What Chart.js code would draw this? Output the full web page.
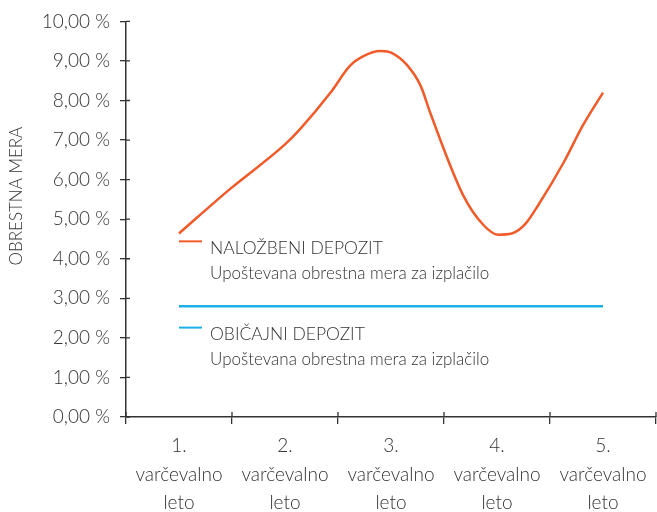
<!DOCTYPE html>
<html>
<head>
<meta charset="utf-8">
<script src="https://cdn.jsdelivr.net/npm/chart.js@4.4.1/dist/chart.umd.min.js"></script>
<style>
  html, body { margin: 0; padding: 0; background: #fff; }
  #wrap { width: 657px; height: 512px; }
</style>
</head>
<body>
<div id="wrap"><canvas id="obrestna-mera"></canvas></div>
<script>
// leta (kategorije)
var leta = [
  ['1.', 'varčevalno', 'leto'],
  ['2.', 'varčevalno', 'leto'],
  ['3.', 'varčevalno', 'leto'],
  ['4.', 'varčevalno', 'leto'],
  ['5.', 'varčevalno', 'leto']
];
// naložbeni depozit - položaj na osi (leto) in obrestna mera v %
var nalozbeni_leto = [1.0, 1.48, 2.0, 2.14, 2.43, 2.61, 2.74, 2.9, 3.01, 3.15, 3.28, 3.37, 3.68, 3.87, 4.01, 4.14, 4.27, 4.39, 4.63, 4.81, 5.0];
var nalozbeni_mera = [4.64, 5.76, 6.89, 7.27, 8.2, 8.87, 9.12, 9.25, 9.2, 8.9, 8.37, 7.69, 5.61, 4.86, 4.61, 4.64, 4.89, 5.36, 6.44, 7.37, 8.2];
// običajni depozit
var obicajni_leto = [1, 5];
var obicajni_mera = [2.8, 2.8];

var oranzna = '#f15a29';
var modra = '#1cb1e6';
var siva = '#333333';
var pisava = 'Lato, "Open Sans", sans-serif';

function tocke(xs, ys) {
  var out = [];
  for (var i = 0; i < xs.length; i++) out.push({x: xs[i], y: ys[i]});
  return out;
}

// legenda v grafu + notranji deli oznak na oseh
var dodatki = {
  id: 'dodatki',
  afterDraw: function(chart) {
    var ctx = chart.ctx;
    var a = chart.chartArea;
    var sy = chart.scales.y, xl = chart.scales.xl;
    ctx.save();
    ctx.strokeStyle = siva;
    ctx.lineWidth = 1.3;
    ctx.beginPath();
    for (var i = 0; i < sy.ticks.length; i++) {
      var py = sy.getPixelForTick(i);
      ctx.moveTo(a.left, py); ctx.lineTo(a.left + 4, py);
    }
    for (var j = 0; j <= leta.length; j++) {
      var px = xl.getPixelForValue(0.5 + j);
      ctx.moveTo(px, a.bottom); ctx.lineTo(px, a.bottom - 5);
    }
    ctx.stroke();

    var x0 = xl.getPixelForValue(1);
    var vnosi = [
      {barva: oranzna, naslov: 'NALOŽBENI DEPOZIT', y: sy.getPixelForValue(4.44)},
      {barva: modra, naslov: 'OBIČAJNI DEPOZIT', y: sy.getPixelForValue(2.26)}
    ];
    vnosi.forEach(function(v) {
      ctx.strokeStyle = v.barva;
      ctx.lineWidth = 2;
      ctx.beginPath();
      ctx.moveTo(x0, v.y); ctx.lineTo(x0 + 23, v.y);
      ctx.stroke();
      ctx.fillStyle = siva;
      ctx.textBaseline = 'middle';
      ctx.textAlign = 'left';
      ctx.font = '300 17.5px ' + pisava;
      ctx.fillText(v.naslov, x0 + 31, v.y + 7);
      ctx.font = '300 17px ' + pisava;
      ctx.fillText('Upoštevana obrestna mera za izplačilo', x0 + 31, v.y + 32);
    });
    ctx.restore();
  }
};

var ctx = document.getElementById('obrestna-mera');
var graf = new Chart(ctx, {
  type: 'line',
  data: {
    labels: leta,
    datasets: [
      {
        label: 'NALOŽBENI DEPOZIT',
        data: tocke(nalozbeni_leto, nalozbeni_mera),
        xAxisID: 'xl',
        borderColor: oranzna,
        borderWidth: 2.5,
        pointRadius: 0,
        cubicInterpolationMode: 'monotone',
        fill: false
      },
      {
        label: 'OBIČAJNI DEPOZIT',
        data: tocke(obicajni_leto, obicajni_mera),
        xAxisID: 'xl',
        borderColor: modra,
        borderWidth: 2.5,
        pointRadius: 0,
        fill: false
      }
    ]
  },
  plugins: [dodatki],
  options: {
    responsive: true,
    maintainAspectRatio: false,
    animation: false,
    layout: { padding: { top: 18, right: 1, left: 0, bottom: 0 } },
    plugins: { legend: { display: false }, tooltip: { enabled: false } },
    scales: {
      x: {
        type: 'category',
        offset: true,
        grid: { offset: true, drawOnChartArea: false, tickLength: 7, color: siva, lineWidth: 1.3 },
        border: { color: siva, width: 1.5 },
        ticks: { color: siva, padding: 8, maxRotation: 0, autoSkip: false,
                 font: { family: pisava, size: 19, weight: '300', lineHeight: 1.5 } },
        afterFit: function(s) { s.height = 95; }
      },
      xl: {
        type: 'linear',
        display: false,
        min: 0.5,
        max: 5.5
      },
      y: {
        min: 0,
        max: 10,
        grid: { drawOnChartArea: false, tickLength: 6, color: siva, lineWidth: 1.3 },
        border: { color: siva, width: 1.5 },
        ticks: {
          stepSize: 1,
          color: siva,
          padding: 10,
          font: { family: pisava, size: 19, weight: '300' },
          callback: function(v) { return v.toFixed(2).replace('.', ',') + ' %'; }
        },
        title: {
          display: true,
          text: '          OBRESTNA MERA',
          color: siva,
          padding: { top: 6, bottom: 0 },
          font: { family: pisava, size: 17, weight: '300' }
        },
        afterFit: function(s) { s.width = 126; }
      }
    }
  }
});
</script>
</body>
</html>
